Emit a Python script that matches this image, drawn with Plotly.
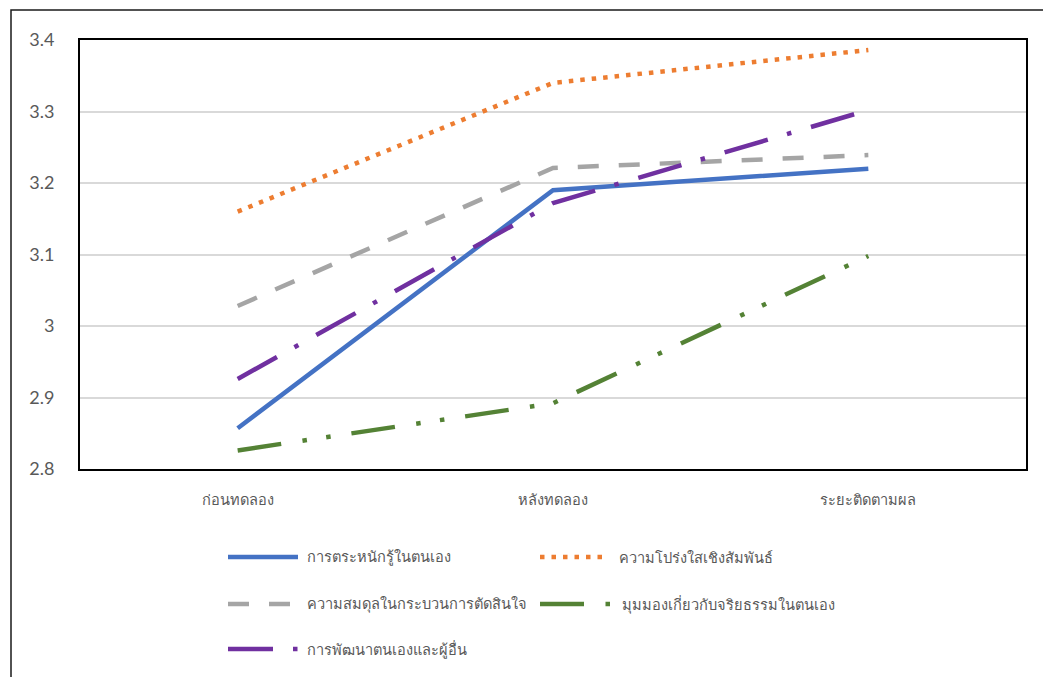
import plotly.graph_objects as go

# Measurement stages (x categories)
stages = ["ก่อนทดลอง", "หลังทดลอง", "ระยะติดตามผล"]

# Mean scores per dimension at each stage
self_awareness = [2.857, 3.19, 3.22]
relational_transparency = [3.16, 3.34, 3.386]
balanced_processing = [3.028, 3.221, 3.239]
internal_moral = [2.826, 2.892, 3.098]
self_other_development = [2.926, 3.172, 3.302]

series_names = [
    "การตระหนักรู้ในตนเอง",
    "ความโปร่งใสเชิงสัมพันธ์",
    "ความสมดุลในกระบวนการตัดสินใจ",
    "มุมมองเกี่ยวกับจริยธรรมในตนเอง",
    "การพัฒนาตนเองและผู้อื่น",
]

y_ticks = [2.8, 2.9, 3.0, 3.1, 3.2, 3.3, 3.4]
y_tick_text = ["2.8", "2.9", "3", "3.1", "3.2", "3.3", "3.4"]

colors = ["#4472C4", "#ED7D31", "#A5A5A5", "#548235", "#7030A0"]
dashes = [
    "solid",
    "4.5px,7px",
    "21px,20px",
    "44px,21.5px,4.5px,19.5px,4.5px,21px",
    "45px,20px,4.5px,20.5px",
]
values = [
    self_awareness,
    relational_transparency,
    balanced_processing,
    internal_moral,
    self_other_development,
]

W, H = 1043, 677
ML, MR, MT, MB = 80, 17, 40, 208
PW, PH = W - ML - MR, H - MT - MB


def px_x(px):
    return (px - ML) / PW


def px_y(py):
    return (H - MB - py) / PH


fig = go.Figure()
x_idx = list(range(len(stages)))
for name, vals, col, dsh in zip(series_names, values, colors, dashes):
    fig.add_trace(
        go.Scatter(
            x=x_idx,
            y=vals,
            mode="lines",
            name=name,
            line=dict(color=col, width=4.5, dash=dsh),
            showlegend=False,
        )
    )

shapes = []
annotations = []

# Outer frame around the whole chart
shapes.append(dict(type="rect", xref="paper", yref="paper",
                   x0=px_x(11), x1=px_x(1060), y0=px_y(700), y1=px_y(10),
                   line=dict(color="#1a1a1a", width=1.5), fillcolor="rgba(0,0,0,0)",
                   layer="above"))

# Legend: sample lines + labels, two columns
legend_pos = [
    (228, 298, 557, 305),
    (540, 606, 557, 617),
    (228, 298, 604, 305),
    (540, 611, 604, 620),
    (228, 298, 649, 305),
]
for (x0, x1, yy, tx), name, col, dsh in zip(legend_pos, series_names, colors, dashes):
    shapes.append(dict(type="line", xref="paper", yref="paper",
                       x0=px_x(x0), x1=px_x(x1), y0=px_y(yy), y1=px_y(yy),
                       line=dict(color=col, width=4.5, dash=dsh)))
    annotations.append(dict(xref="paper", yref="paper", x=px_x(tx), y=px_y(yy),
                            text=name, showarrow=False, xanchor="left", yanchor="middle",
                            font=dict(size=14.6, color="#595959")))

fig.update_layout(
    width=W,
    height=H,
    margin=dict(l=ML, r=MR, t=MT, b=MB),
    paper_bgcolor="white",
    plot_bgcolor="white",
    font=dict(family="Lato, Noto Sans, sans-serif", color="#595959"),
    shapes=shapes,
    annotations=annotations,
    xaxis=dict(
        range=[-0.5, 2.5],
        tickmode="array",
        tickvals=x_idx,
        ticktext=stages,
        tickfont=dict(size=14.6, color="#595959"),
        showgrid=False,
        zeroline=False,
        showline=True,
        mirror=True,
        linecolor="black",
        linewidth=2,
        ticks="",
        ticklabelstandoff=16,
    ),
    yaxis=dict(
        range=[2.8, 3.4],
        tickmode="array",
        tickvals=y_ticks,
        ticktext=y_tick_text,
        tickfont=dict(size=18, color="#595959"),
        showgrid=True,
        gridcolor="#D9D9D9",
        gridwidth=1.5,
        zeroline=False,
        showline=True,
        mirror=True,
        linecolor="black",
        linewidth=2,
        ticks="",
        ticklabelstandoff=20,
    ),
)

fig.write_html("out.html")
